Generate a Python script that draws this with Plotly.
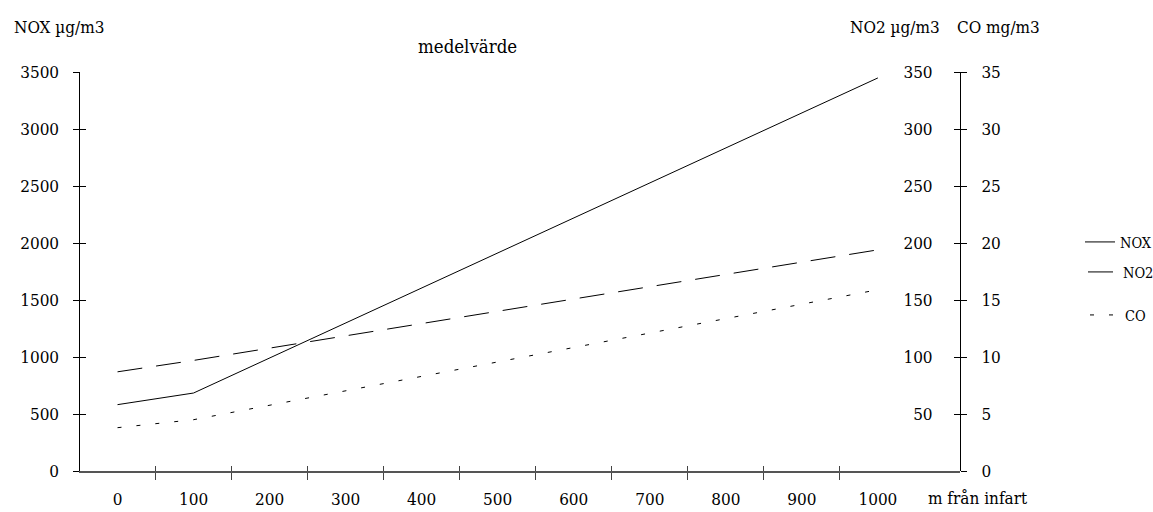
import plotly.graph_objects as go

# ---- data ----
distance = [0, 100, 200, 300, 400, 500, 600, 700, 800, 900, 1000]
distance_labels = ["0", "100", "200", "300", "400", "500", "600", "700", "800", "900", "1000"]
nox = [582, 684, None, None, None, None, None, None, None, None, 3448]
no2 = [87, 97, None, None, None, None, None, None, None, None, 194]
co = [3.8, 4.5, None, None, None, None, None, None, None, None, 15.9]
nox_ticks = [0, 500, 1000, 1500, 2000, 2500, 3000, 3500]
no2_ticks = [50, 100, 150, 200, 250, 300, 350]
co_ticks = [0, 5, 10, 15, 20, 25, 30, 35]
boundaries = [50, 150, 250, 350, 450, 550, 650, 750, 850, 950]

FONT = "DejaVu Serif Condensed, DejaVu Serif, serif"
W, H = 1153, 512
XD = [79.5 / W, 960 / W]
YD = [41 / H, 440 / H]
XR = [-50, 1108]

fig = go.Figure()
fig.add_trace(go.Scatter(x=distance, y=nox, name="NOX", mode="lines", connectgaps=True,
                         line=dict(color="black", width=1), legend="legend",
                         xaxis="x", yaxis="y"))
fig.add_trace(go.Scatter(x=distance, y=no2, name="NO2", mode="lines", connectgaps=True,
                         line=dict(color="black", width=1, dash="25px,14px"), legend="legend2",
                         xaxis="x", yaxis="y2"))
fig.add_trace(go.Scatter(x=distance, y=co, name="CO", mode="lines", connectgaps=True,
                         line=dict(color="black", width=1, dash="4px,15px"), legend="legend3",
                         xaxis="x", yaxis="y3"))
# invisible helper so overlay tick axes get drawn
fig.add_trace(go.Scatter(x=[None], y=[None], xaxis="x2", yaxis="y4", showlegend=False,
                         hoverinfo="skip"))

axis_font = dict(family=FONT, size=17, color="black")
title_font = dict(family=FONT, size=18.5, color="black")
legend_font = dict(family=FONT, size=14.5, color="black")

fig.update_layout(
    width=W, height=H,
    margin=dict(l=0, r=0, t=0, b=0, autoexpand=False),
    paper_bgcolor="white", plot_bgcolor="white",
    font=axis_font,
    xaxis=dict(domain=XD, range=XR, type="linear", tickmode="array",
               tickvals=distance, ticktext=distance_labels, ticks="", automargin=False,
               showgrid=False, zeroline=False, showline=True, linecolor="#555", linewidth=1.5,
               tickfont=axis_font, ticklabelstandoff=12, anchor="y",
               minor=dict(tickmode="array", tickvals=boundaries, ticks="outside",
                          ticklen=7, tickcolor="#444", tickwidth=1, showgrid=False)),
    xaxis2=dict(domain=XD, range=XR, overlaying="x", anchor="y", tickmode="array",
                tickvals=boundaries, ticks="inside", ticklen=5, tickcolor="#444",
                automargin=False,
                showticklabels=False, showline=False, showgrid=False, zeroline=False),
    yaxis=dict(domain=YD, range=[0, 3500], tickmode="array", tickvals=nox_ticks,
               ticks="outside", ticklen=6, tickcolor="black", showline=True,
               linecolor="black", linewidth=1, showgrid=False, zeroline=False,
               automargin=False,
               tickfont=axis_font, ticklabelstandoff=10, anchor="x"),
    yaxis4=dict(domain=YD, range=[0, 3500], overlaying="y", anchor="x", side="left",
                tickmode="array", tickvals=nox_ticks, ticks="inside", ticklen=6,
                tickcolor="black", showticklabels=False, showline=False,
                automargin=False,
                showgrid=False, zeroline=False),
    yaxis2=dict(domain=YD, range=[0, 350], overlaying="y", anchor="free", position=XD[1],
                side="left", tickmode="array", tickvals=no2_ticks, ticks="outside",
                ticklen=6, tickcolor="black", showline=True, linecolor="black",
                linewidth=1, showgrid=False, zeroline=False, tickfont=axis_font,
                automargin=False,
                ticklabelstandoff=18),
    yaxis3=dict(domain=YD, range=[0, 35], overlaying="y", anchor="free", position=XD[1],
                side="right", tickmode="array", tickvals=co_ticks, ticks="outside",
                ticklen=6, tickcolor="black", showline=True, linecolor="black",
                linewidth=1, showgrid=False, zeroline=False, tickfont=axis_font,
                automargin=False,
                ticklabelstandoff=11),
    legend=dict(x=1080 / W, y=1 - 242 / H, xanchor="left", yanchor="middle",
                bgcolor="rgba(0,0,0,0)", font=legend_font, itemwidth=30),
    legend2=dict(x=1083 / W, y=1 - 272 / H, xanchor="left", yanchor="middle",
                 bgcolor="rgba(0,0,0,0)", font=legend_font, itemwidth=30),
    legend3=dict(x=1085 / W, y=1 - 315 / H, xanchor="left", yanchor="middle",
                 bgcolor="rgba(0,0,0,0)", font=legend_font, itemwidth=30),
    annotations=[
        dict(text="medelvärde", x=467 / W, y=1 - 46 / H, xref="paper", yref="paper",
             xanchor="center", yanchor="middle", showarrow=False, font=title_font),
        dict(text="NOX µg/m3", x=12 / W, y=1 - 27 / H, xref="paper", yref="paper",
             xanchor="left", yanchor="middle", showarrow=False, font=axis_font),
        dict(text="NO2 µg/m3", x=848 / W, y=1 - 27 / H, xref="paper", yref="paper",
             xanchor="left", yanchor="middle", showarrow=False, font=axis_font),
        dict(text="CO mg/m3", x=955 / W, y=1 - 27 / H, xref="paper", yref="paper",
             xanchor="left", yanchor="middle", showarrow=False, font=axis_font),
        dict(text="m från infart", x=926 / W, y=1 - 498 / H, xref="paper", yref="paper",
             xanchor="left", yanchor="middle", showarrow=False, font=axis_font),
    ],
)

fig.write_html("out.html")
